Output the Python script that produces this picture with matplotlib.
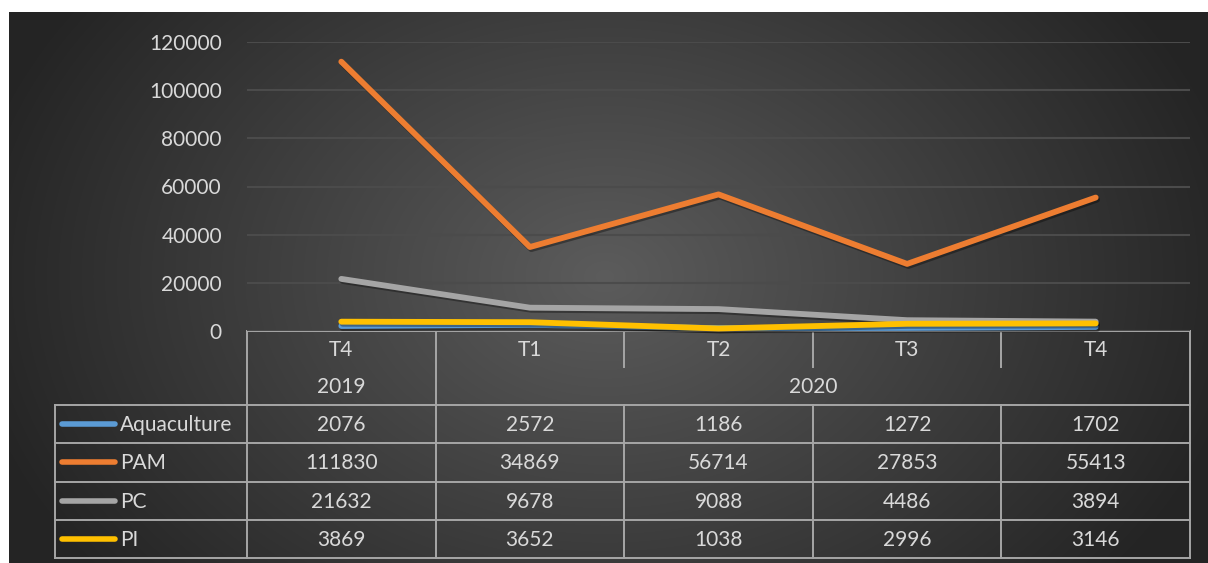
import matplotlib.pyplot as plt
import matplotlib.patheffects as pe
import matplotlib.transforms as mtransforms
import numpy as np

# data
quarters = ['T4', 'T1', 'T2', 'T3', 'T4']
years = ['2019', '2020']
year_span = [(0, 0), (1, 4)]  # first / last category index of each year
series_names = ['Aquaculture', 'PAM', 'PC', 'PI']
aquaculture = [2076, 2572, 1186, 1272, 1702]
pam = [111830, 34869, 56714, 27853, 55413]
pc = [21632, 9678, 9088, 4486, 3894]
pi = [3869, 3652, 1038, 2996, 3146]
series_values = [aquaculture, pam, pc, pi]
colors = ['#5B9BD5', '#ED7D31', '#A5A5A5', '#FFC000']
yticks = [0, 20000, 40000, 60000, 80000, 100000, 120000]

plt.rcParams['font.family'] = ['Lato', 'DejaVu Sans']
txt = '#D9D9D9'
grid = '#A6A6A6'
fs = 15

W, H = 1208, 563
fig = plt.figure(figsize=(W / 100, H / 100), dpi=100)
fig.patch.set_facecolor('white')

# background with radial gradient, pixel coordinates
bg = fig.add_axes([0, 0, 1, 1])
bg.set_xlim(0, W)
bg.set_ylim(H, 0)
bg.axis('off')
yy, xx = np.mgrid[0:H, 0:W]
r = np.sqrt(((xx - 600) / 720.0) ** 2 + ((yy - 270) / 540.0) ** 2)
shade = np.clip(0.36 - 0.24 * r, 0.145, 0.36)
img = np.dstack([shade, shade, shade])
bg.imshow(img, extent=[9, W, H, 12], aspect='auto', zorder=0)

# plot area
ax = fig.add_axes([247 / W, (H - 331) / H, (1190 - 247) / W, (331 - 42) / H])
ax.patch.set_alpha(0)
ax.set_xlim(-0.5, len(quarters) - 0.5)
ax.set_ylim(0, 120000)
ax.set_yticks(yticks)
ax.set_yticklabels([str(v) for v in yticks], color=txt, fontsize=fs)
ax.tick_params(axis='y', length=0, pad=18)
ax.set_xticks([])
for s in ax.spines.values():
    s.set_visible(False)
ax.grid(axis='y', color='#4B4B4B', linewidth=1.5)
ax.set_axisbelow(True)

x = np.arange(len(quarters))
for vals, c in zip(series_values, colors):
    ax.plot(x, vals, color=c, linewidth=4.2, solid_capstyle='round',
            solid_joinstyle='round', zorder=3, clip_on=False,
            path_effects=[pe.SimpleLineShadow(offset=(1, -1.5), shadow_color='black', alpha=0.35),
                          pe.Normal()])

# data table below plot: x in category units, y in pixels
tr = mtransforms.blended_transform_factory(ax.transData, bg.transData)
lw = 1.4
top = 331
cat_bottom = 367
year_bottom = 405
row_h = 38.3
n_rows = len(series_names)
table_bottom = year_bottom + n_rows * row_h
xl, xr = -0.5, len(quarters) - 0.5

# header frame
bg.plot([xl, xr], [top, top], color=grid, lw=lw, transform=tr)
bg.plot([xl, xl], [top, table_bottom], color=grid, lw=lw, transform=tr)
bg.plot([xr, xr], [top, table_bottom], color=grid, lw=lw, transform=tr)
for i in range(1, len(quarters)):
    is_year_edge = any(i == a for a, b in year_span)
    y_end = table_bottom if is_year_edge else cat_bottom
    bg.plot([i - 0.5, i - 0.5], [top, y_end], color=grid, lw=lw, transform=tr)
    if not is_year_edge:
        bg.plot([i - 0.5, i - 0.5], [year_bottom, table_bottom], color=grid, lw=lw, transform=tr)

for i, q in enumerate(quarters):
    bg.text(i, (top + cat_bottom) / 2 + 1, q, color=txt, fontsize=fs,
            ha='center', va='center', transform=tr)
for yr, (a, b) in zip(years, year_span):
    bg.text((a + b) / 2, (cat_bottom + year_bottom) / 2 + 1, yr, color=txt, fontsize=fs,
            ha='center', va='center', transform=tr)

# rows
left_px = 55
for k in range(n_rows + 1):
    yk = year_bottom + k * row_h
    bg.plot([left_px, 1190], [yk, yk], color=grid, lw=lw)
bg.plot([left_px, left_px], [year_bottom, table_bottom], color=grid, lw=lw)

for k, (name, vals, c) in enumerate(zip(series_names, series_values, colors)):
    yc = year_bottom + (k + 0.5) * row_h
    bg.plot([62, 115], [yc, yc], color=c, lw=4.0, solid_capstyle='round')
    bg.text(120, yc + 1, name, color=txt, fontsize=fs, ha='left', va='center')
    for i, v in enumerate(vals):
        bg.text(i, yc + 1, str(v), color=txt, fontsize=fs, ha='center', va='center', transform=tr)

fig.savefig('out.png', dpi=100, facecolor=fig.get_facecolor())
